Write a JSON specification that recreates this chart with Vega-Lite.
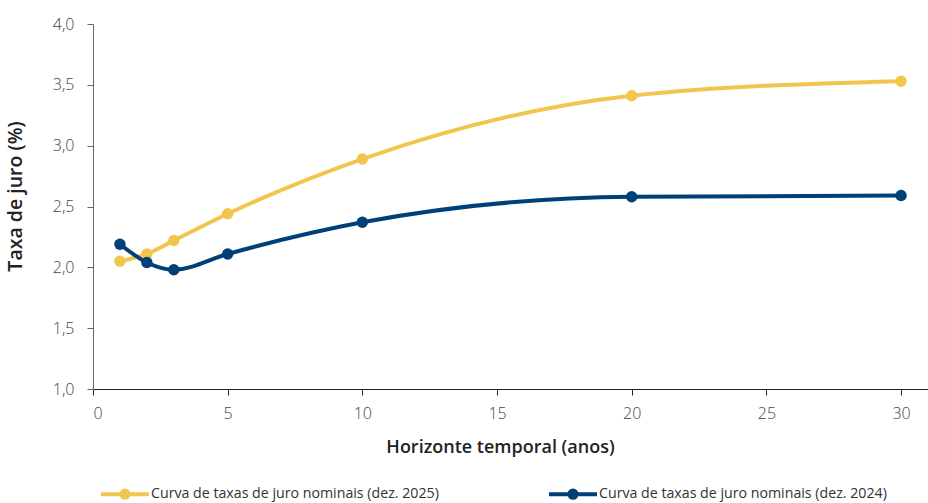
{
  "$schema": "https://vega.github.io/schema/vega-lite/v6.json",
  "width": 835,
  "height": 365,
  "autosize": {"type": "none"},
  "padding": {"left": 93, "top": 24, "right": 0, "bottom": 114},
  "background": "white",
  "config": {
    "view": {"stroke": null},
    "font": "Open Sans"
  },
  "data": {
    "values": [
      {"serie": "Curva de taxas de juro nominais (dez. 2025)", "anos": 1, "taxa": 2.05},
      {"serie": "Curva de taxas de juro nominais (dez. 2025)", "anos": 2, "taxa": 2.11},
      {"serie": "Curva de taxas de juro nominais (dez. 2025)", "anos": 3, "taxa": 2.22},
      {"serie": "Curva de taxas de juro nominais (dez. 2025)", "anos": 5, "taxa": 2.44},
      {"serie": "Curva de taxas de juro nominais (dez. 2025)", "anos": 10, "taxa": 2.89},
      {"serie": "Curva de taxas de juro nominais (dez. 2025)", "anos": 20, "taxa": 3.41},
      {"serie": "Curva de taxas de juro nominais (dez. 2025)", "anos": 30, "taxa": 3.53},
      {"serie": "Curva de taxas de juro nominais (dez. 2024)", "anos": 1, "taxa": 2.19},
      {"serie": "Curva de taxas de juro nominais (dez. 2024)", "anos": 2, "taxa": 2.04},
      {"serie": "Curva de taxas de juro nominais (dez. 2024)", "anos": 3, "taxa": 1.98},
      {"serie": "Curva de taxas de juro nominais (dez. 2024)", "anos": 5, "taxa": 2.11},
      {"serie": "Curva de taxas de juro nominais (dez. 2024)", "anos": 10, "taxa": 2.37},
      {"serie": "Curva de taxas de juro nominais (dez. 2024)", "anos": 20, "taxa": 2.58},
      {"serie": "Curva de taxas de juro nominais (dez. 2024)", "anos": 30, "taxa": 2.59}
    ]
  },
  "encoding": {
    "x": {
      "field": "anos", "type": "quantitative",
      "scale": {"domain": [0, 31], "nice": false, "zero": false},
      "axis": {
        "title": "Horizonte temporal (anos)",
        "values": [0, 5, 10, 15, 20, 25, 30],
        "grid": false,
        "domainColor": "#222", "tickColor": "#222", "tickSize": 6,
        "labelFontSize": 16, "labelFontWeight": 300, "labelColor": "#444", "labelPadding": 10,
        "titleFontSize": 18, "titleFontWeight": 600, "titleColor": "#222", "titlePadding": 17,
        "titleX": 407
      }
    },
    "y": {
      "field": "taxa", "type": "quantitative",
      "scale": {"domain": [1, 4], "nice": false, "zero": false},
      "axis": {
        "title": "Taxa de juro (%)",
        "values": [1, 1.5, 2, 2.5, 3, 3.5, 4],
        "format": ".1f",
        "labelExpr": "replace(datum.label, '.', ',')",
        "grid": false,
        "domainColor": "#666", "tickColor": "#666", "tickSize": 6,
        "labelFontSize": 16, "labelFontWeight": 300, "labelColor": "#444", "labelPadding": 13,
        "titleFontSize": 19.5, "titleFontWeight": 600, "titleColor": "#222", "titlePadding": 27,
        "titleY": 172
      }
    },
    "color": {
      "field": "serie", "type": "nominal",
      "scale": {
        "domain": ["Curva de taxas de juro nominais (dez. 2025)", "Curva de taxas de juro nominais (dez. 2024)"],
        "range": ["#F2C64E", "#004079"]
      },
      "legend": {
        "title": null,
        "orient": "none",
        "legendX": 6,
        "legendY": 444,
        "padding": 0,
        "direction": "horizontal",
        "columns": 2,
        "columnPadding": 102,
        "symbolType": "M -1 0 H 1 M 0.15 0 A 0.15 0.15 0 1 1 -0.15 0 A 0.15 0.15 0 1 1 0.15 0",
        "symbolSize": 2304,
        "symbolStrokeWidth": 4,
        "labelFontSize": 14.2,
        "labelColor": "#333",
        "labelLimit": 400,
        "labelOffset": 0
      }
    }
  },
  "layer": [
    {
      "mark": {"type": "line", "interpolate": "monotone", "strokeWidth": 4}
    },
    {
      "mark": {"type": "point", "filled": true, "size": 130, "opacity": 1}
    }
  ]
}
